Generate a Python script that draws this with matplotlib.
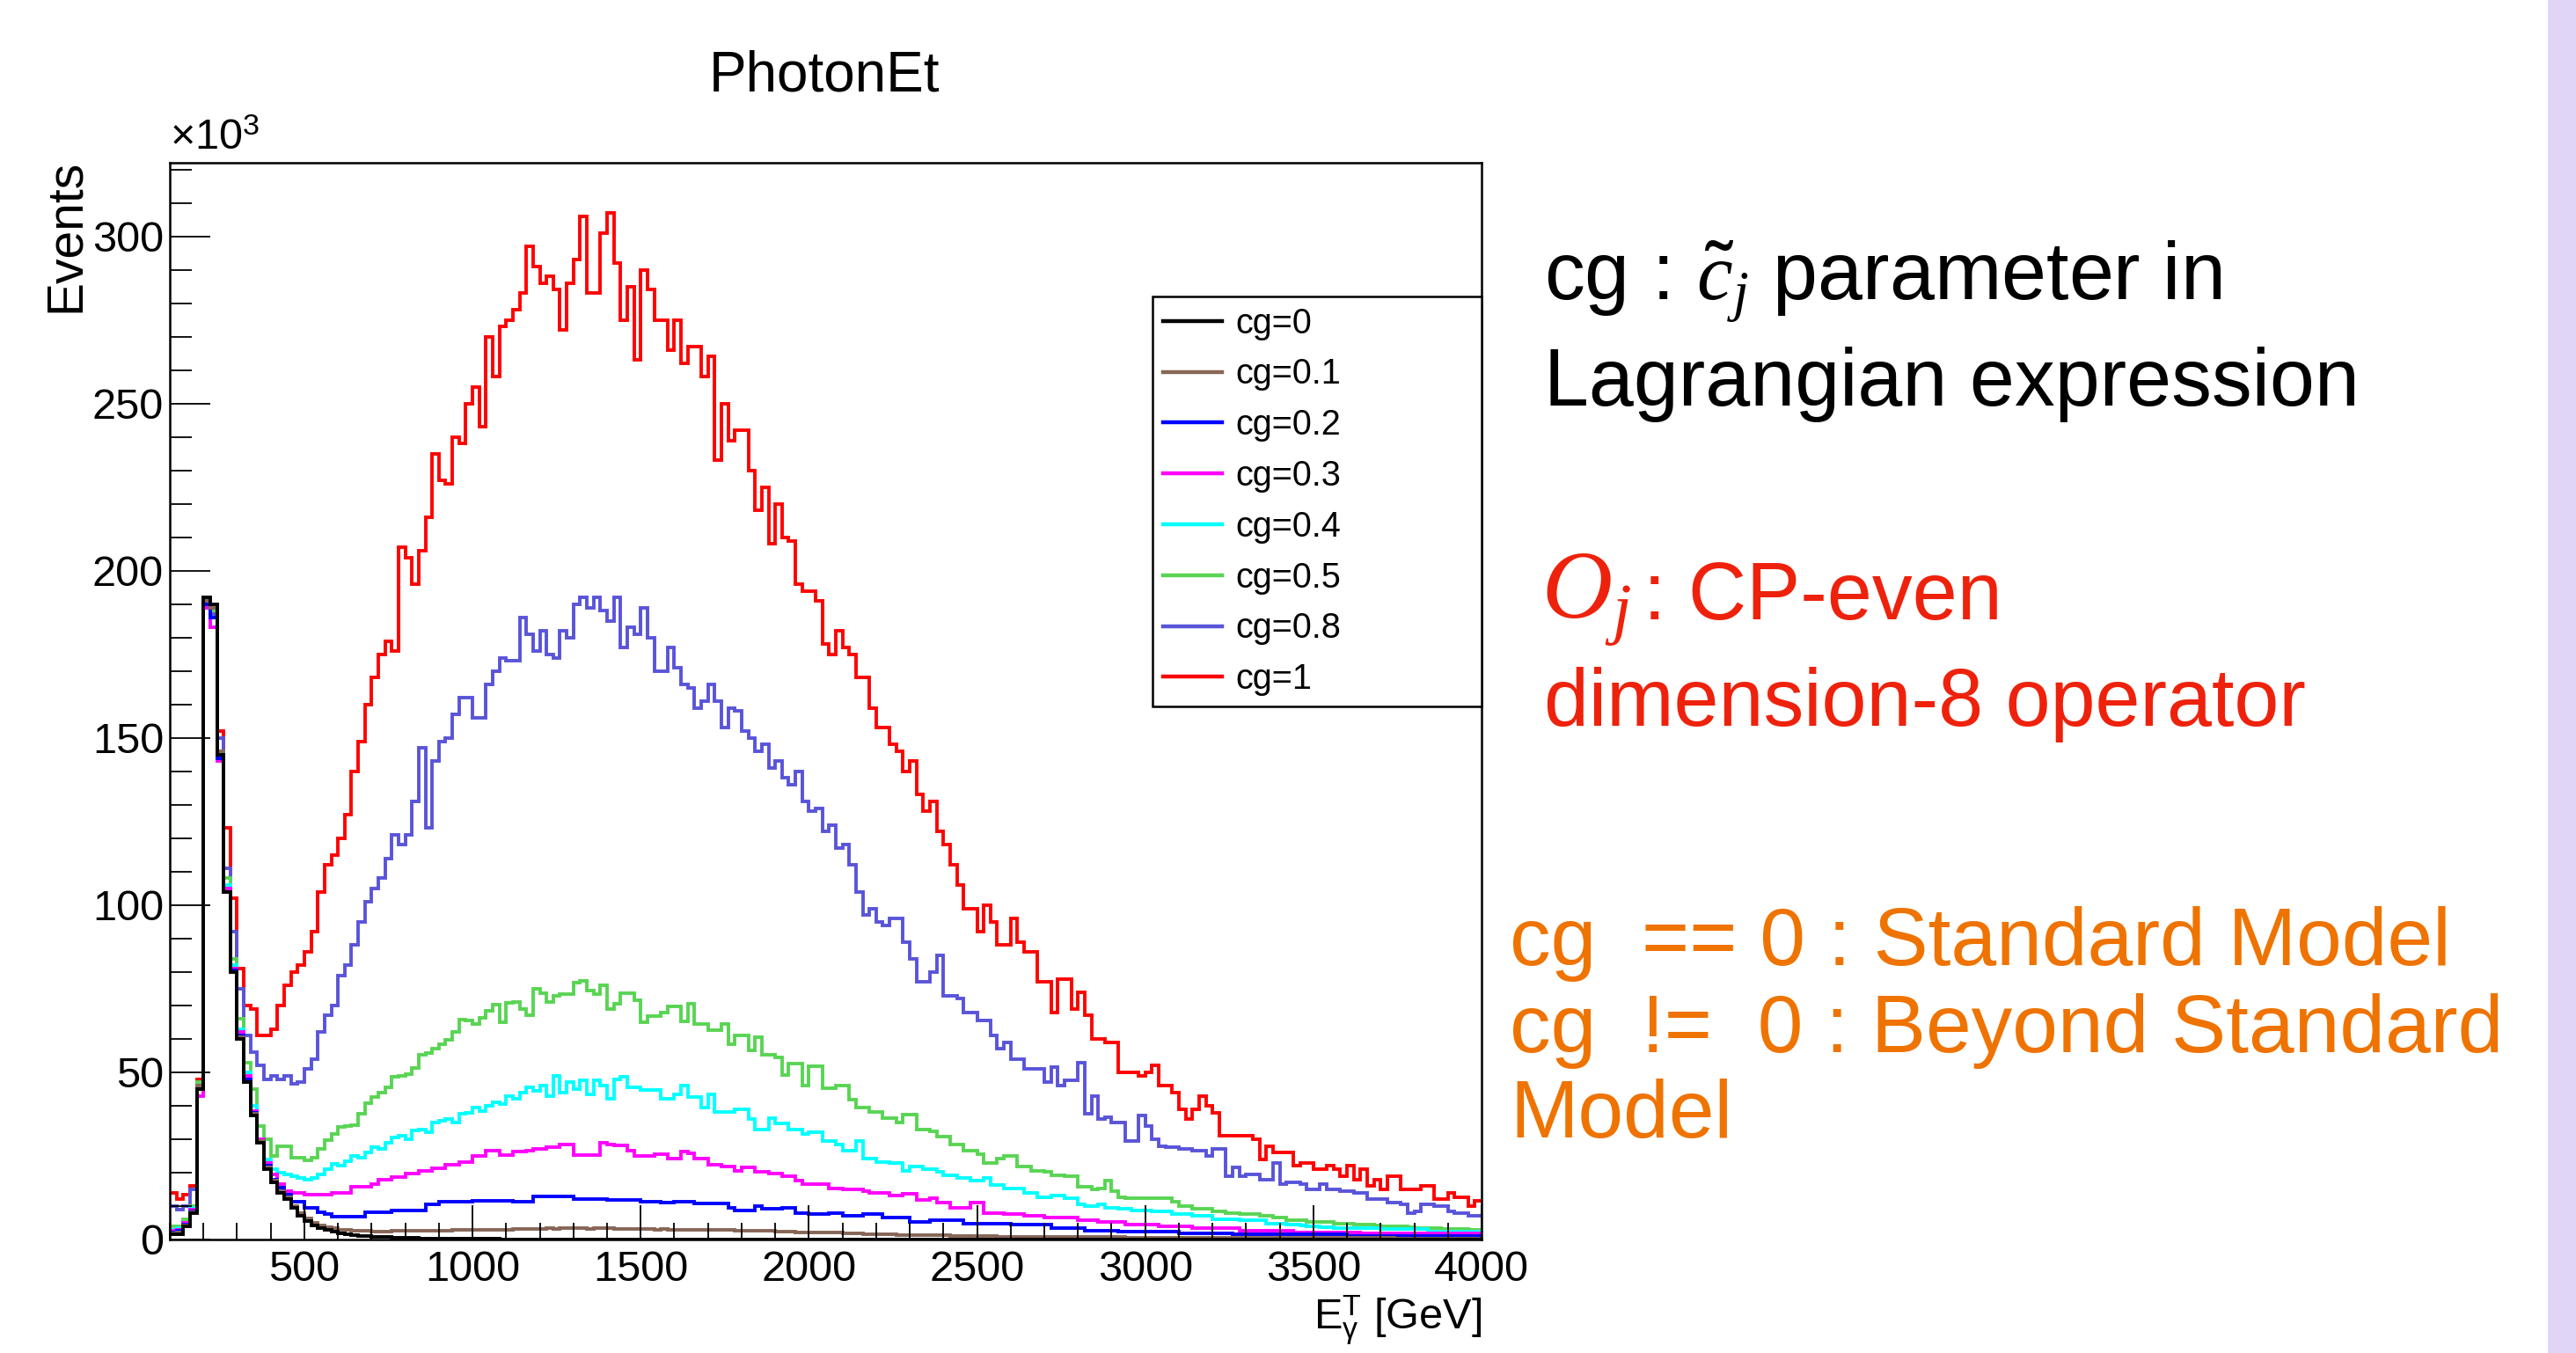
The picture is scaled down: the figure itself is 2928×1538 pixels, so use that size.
import matplotlib
matplotlib.use("Agg")
import matplotlib.pyplot as plt
from matplotlib.patches import Rectangle
from matplotlib.ticker import MultipleLocator
import numpy as np

plt.rcParams["font.family"] = ["Liberation Sans", "DejaVu Sans"]
plt.rcParams["mathtext.fontset"] = "custom"
plt.rcParams["mathtext.rm"] = "Liberation Sans"
plt.rcParams["mathtext.it"] = "Liberation Serif:italic"
plt.rcParams["mathtext.bf"] = "Liberation Sans:bold"

# Photon E_T histograms: 20 GeV bins from 100 to 4000 GeV, counts in units of 10^3
edges = np.arange(100, 4001, 20)

cg_labels = ["cg=0", "cg=0.1", "cg=0.2", "cg=0.3", "cg=0.4", "cg=0.5", "cg=0.8", "cg=1"]
cg_colors = ["#000000", "#876657", "#0000ff", "#ff00ff", "#00ffff", "#59d454", "#5954d9", "#ff0000"]

cg_0 = [
    1.5, 1.5, 4.0, 8.0, 45, 192, 190, 145, 104, 80,
    60, 47, 37, 29, 21, 17, 14, 12, 9.5, 7.0,
    5.5, 4.2, 3.3, 2.8, 2.4, 1.8, 1.5, 1.3, 1.1, 1.0,
    0.9, 0.8, 0.7, 0.6, 0.5, 0.45, 0.4, 0.35, 0.3, 0.3,
    0.25, 0.25, 0.2, 0.2, 0.2, 0.18, 0.16, 0.15, 0.14, 0.13,
    0.12, 0.12, 0.11, 0.11, 0.1, 0.1, 0.1, 0.09, 0.09, 0.09,
    0.08, 0.08, 0.08, 0.07, 0.07, 0.07, 0.07, 0.06, 0.06, 0.06,
    0.06, 0.05, 0.05, 0.05, 0.05, 0.05, 0.04, 0.04, 0.04, 0.04,
    0.04, 0.04, 0.03, 0.03, 0.03, 0.03, 0.03, 0.03, 0.03, 0.03,
    0.02, 0.02, 0.02, 0.02, 0.02, 0.02, 0.02, 0.02, 0.02, 0.02,
    0.02, 0.02, 0.02, 0.02, 0.02, 0.02, 0.02, 0.02, 0.02, 0.02,
    0.01, 0.01, 0.01, 0.01, 0.01, 0.01, 0.01, 0.01, 0.01, 0.01,
    0.01, 0.01, 0.01, 0.01, 0.01, 0.01, 0.01, 0.01, 0.01, 0.01,
    0.01, 0.01, 0.01, 0.01, 0.01, 0.01, 0.01, 0.01, 0.01, 0.01,
    0.01, 0.01, 0.01, 0.01, 0.01, 0.01, 0.01, 0.01, 0.01, 0.01,
    0.01, 0.01, 0.01, 0.01, 0.01, 0.01, 0.01, 0.01, 0.01, 0.01,
    0.01, 0.01, 0.01, 0.01, 0.01, 0.01, 0.01, 0.01, 0.01, 0.01,
    0.01, 0.01, 0.01, 0.01, 0.01, 0.01, 0.01, 0.01, 0.01, 0.01,
    0.01, 0.01, 0.01, 0.01, 0.01, 0.01, 0.01, 0.01, 0.01, 0.01,
    0.01, 0.01, 0.01, 0.01, 0.01,
]

cg_01 = [
    1.8, 2.0, 4.2, 8.2, 46, 191, 189, 146, 104, 80,
    60.5, 47, 37.5, 29.5, 21.5, 17.5, 14.5, 12.5, 10, 7.8,
    6.3, 5.0, 4.2, 3.7, 3.3, 3.0, 2.8, 2.6, 2.5, 2.5,
    2.4, 2.4, 2.4, 2.5, 2.5, 2.5, 2.6, 2.6, 2.6, 2.7,
    2.7, 2.7, 2.8, 2.8, 2.8, 2.9, 2.9, 2.9, 3.0, 3.0,
    3.0, 3.1, 3.1, 3.2, 3.2, 3.2, 3.3, 3.2, 3.3, 3.3,
    3.3, 3.4, 3.2, 3.4, 3.3, 3.3, 3.2, 3.1, 3.1, 3.2,
    3.1, 3.1, 3.0, 3.1, 3.0, 3.0, 3.0, 2.9, 3.0, 2.9,
    2.9, 2.8, 2.8, 2.8, 2.7, 2.7, 2.7, 2.6, 2.6, 2.5,
    2.4, 2.3, 2.3, 2.2, 2.2, 2.2, 2.1, 2.1, 2.0, 2.0,
    1.9, 1.8, 1.8, 1.7, 1.6, 1.6, 1.5, 1.5, 1.4, 1.4,
    1.3, 1.3, 1.3, 1.2, 1.2, 1.2, 1.1, 1.1, 1.1, 1.0,
    1.0, 1.0, 1.0, 0.9, 0.9, 0.9, 0.9, 0.9, 0.9, 0.9,
    0.9, 0.8, 0.8, 0.8, 0.8, 0.8, 0.8, 0.7, 0.7, 0.7,
    0.7, 0.7, 0.6, 0.6, 0.6, 0.6, 0.6, 0.6, 0.6, 0.6,
    0.6, 0.6, 0.6, 0.5, 0.5, 0.5, 0.5, 0.5, 0.5, 0.5,
    0.5, 0.5, 0.5, 0.5, 0.5, 0.5, 0.4, 0.4, 0.4, 0.4,
    0.4, 0.4, 0.4, 0.4, 0.4, 0.4, 0.4, 0.4, 0.4, 0.4,
    0.4, 0.4, 0.3, 0.3, 0.3, 0.3, 0.3, 0.3, 0.3, 0.3,
    0.3, 0.3, 0.3, 0.3, 0.3,
]

cg_02 = [
    2.0, 2.5, 4.5, 8.5, 45, 190, 186, 144, 104, 80.5,
    61, 48, 38, 29.5, 22, 18, 15.5, 13.5, 11.3, 11.3,
    9.5, 9.5, 8.2, 7.7, 6.9, 6.9, 6.9, 6.9, 6.9, 8.2,
    8.2, 8.2, 8.2, 8.6, 8.6, 8.6, 8.6, 8.6, 10.4, 10.4,
    11.3, 11.3, 11.3, 11.3, 11.3, 11.7, 11.7, 11.7, 11.7, 11.7,
    11.7, 11.3, 11.3, 11.3, 13.0, 13.0, 13.0, 13.0, 13.0, 13.0,
    12.1, 12.1, 12.1, 12.1, 12.1, 11.8, 11.8, 11.8, 11.8, 11.8,
    11.4, 11.4, 11.4, 11.0, 11.0, 11.4, 11.4, 11.4, 10.8, 10.8,
    10.8, 10.8, 10.8, 9.6, 8.8, 8.8, 8.8, 10.1, 9.2, 9.2,
    9.2, 9.6, 9.6, 7.9, 7.9, 7.5, 7.5, 7.5, 7.9, 7.9,
    7.0, 7.0, 7.0, 7.5, 7.5, 7.5, 6.6, 6.6, 6.6, 6.6,
    5.3, 5.3, 5.3, 5.7, 5.7, 5.7, 5.7, 5.7, 4.8, 4.8,
    4.8, 4.8, 4.8, 4.8, 4.8, 4.4, 4.4, 4.4, 4.4, 4.4,
    4.4, 3.5, 3.5, 3.5, 3.5, 3.5, 2.6, 2.6, 2.6, 2.6,
    2.6, 2.4, 2.4, 2.4, 2.4, 2.4, 2.4, 2.4, 2.4, 2.4,
    1.8, 1.8, 1.8, 1.8, 1.8, 1.8, 1.8, 1.8, 1.5, 1.5,
    1.5, 1.5, 1.5, 1.5, 1.5, 1.5, 1.5, 1.5, 1.5, 1.5,
    1.5, 1.5, 1.5, 1.5, 1.5, 1.1, 1.1, 1.1, 1.1, 1.1,
    1.1, 1.1, 1.1, 1.1, 1.1, 1.1, 1.1, 1.1, 1.1, 1.1,
    1.1, 1.1, 1.1, 1.1, 1.1,
]

cg_03 = [
    2.5, 3.0, 5.0, 9.0, 43, 189, 183, 143, 105, 81,
    62, 49, 38.5, 30, 23, 19.5, 16.5, 14.5, 14, 13.9,
    13.5, 13.5, 13.5, 13.5, 13.9, 13.9, 14.0, 15.7, 15.7, 15.7,
    16.5, 17.9, 17.9, 18.7, 18.7, 19.6, 19.6, 20.5, 20.5, 21.4,
    21.4, 22.3, 22.3, 23.1, 23.1, 24.9, 24.9, 26.7, 26.7, 25.3,
    25.3, 26.2, 26.2, 26.7, 27.1, 27.1, 27.5, 27.5, 28.4, 28.4,
    25.3, 25.3, 25.3, 25.3, 28.9, 28.4, 28.1, 28.1, 26.7, 25.0,
    25.0, 25.0, 25.4, 25.4, 24.1, 24.1, 26.3, 25.9, 24.1, 24.1,
    22.4, 22.4, 21.9, 21.9, 20.6, 21.5, 21.5, 20.2, 20.2, 19.7,
    19.7, 18.9, 18.9, 17.5, 16.7, 16.7, 16.7, 16.7, 15.3, 15.3,
    14.9, 14.9, 14.9, 14.5, 14.0, 14.0, 14.0, 13.2, 13.2, 13.6,
    13.6, 11.8, 11.8, 12.3, 11.0, 11.0, 9.6, 9.6, 9.6, 11.0,
    11.0, 7.9, 7.9, 7.9, 7.5, 7.5, 7.5, 7.0, 7.0, 7.0,
    6.6, 6.6, 6.6, 6.6, 6.6, 5.7, 5.7, 5.7, 5.3, 5.3,
    5.3, 5.3, 4.4, 4.4, 4.4, 4.4, 4.4, 3.9, 3.9, 3.9,
    3.9, 3.9, 3.5, 3.5, 3.5, 3.5, 3.5, 3.5, 3.5, 2.6,
    2.6, 2.6, 2.6, 2.6, 2.6, 2.6, 2.6, 2.2, 2.2, 2.2,
    2.2, 2.2, 2.2, 2.2, 2.2, 2.2, 2.2, 1.8, 1.8, 1.8,
    1.8, 1.8, 1.8, 1.8, 1.8, 1.8, 1.8, 1.8, 1.8, 1.8,
    1.8, 1.8, 1.8, 1.8, 1.8,
]

cg_04 = [
    3.0, 3.5, 5.0, 9.5, 46, 190, 183, 145, 106, 82,
    63, 50, 40, 30, 24, 21, 20, 19.5, 19, 18.5,
    18, 18.5, 19.5, 21, 22.5, 22, 23.5, 25, 24.5, 26,
    27.5, 27, 29, 30.5, 31, 30, 32.5, 33, 32, 35,
    35.5, 36, 35, 37.5, 38, 39.5, 38.5, 40, 41, 40.5,
    43, 42, 44, 45.5, 44.5, 46, 43, 49, 44, 47,
    45, 47.5, 43.5, 47.5, 46, 42, 47.8, 48.7, 45.6, 45.6,
    44.7, 44.7, 44.7, 42.1, 42.1, 43.4, 46.0, 42.5, 42.5, 39.5,
    43.4, 38.1, 38.1, 38.1, 39.0, 39.0, 36.0, 32.9, 32.9, 36.4,
    34.6, 34.6, 32.9, 32.9, 31.6, 32.0, 32.0, 29.4, 29.4, 28.5,
    26.7, 26.7, 29.4, 24.1, 24.1, 23.2, 23.2, 22.8, 22.8, 20.6,
    21.9, 21.9, 21.0, 21.0, 20.2, 19.3, 19.3, 18.4, 18.4, 17.5,
    17.5, 18.4, 16.2, 16.2, 15.3, 15.3, 15.3, 14.0, 14.0, 12.7,
    12.7, 13.2, 13.2, 12.3, 12.3, 10.5, 10.1, 10.1, 10.5, 9.6,
    9.6, 9.2, 9.2, 8.8, 8.8, 8.8, 8.3, 8.3, 8.3, 7.5,
    7.5, 7.5, 7.0, 7.0, 7.0, 6.1, 6.1, 6.1, 6.1, 5.7,
    5.7, 5.7, 5.7, 4.8, 4.8, 4.8, 4.4, 4.4, 4.2, 4.0,
    3.9, 3.8, 3.6, 3.5, 3.5, 3.5, 3.5, 3.5, 3.5, 3.5,
    3.1, 3.1, 3.1, 3.1, 3.1, 3.1, 3.1, 2.4, 2.4, 2.4,
    2.4, 2.4, 2.4, 2.4, 2.4,
]

cg_05 = [
    4.0, 4.0, 6.0, 10, 47, 191, 188, 146, 108, 84,
    66, 53, 45, 34, 30, 25, 28, 28, 24.5, 24.5,
    23.6, 24.5, 27, 29.7, 31.5, 33.7, 33.9, 34.1, 37.7, 40.7,
    42.5, 44, 45.6, 48.7, 49, 49.5, 51.3, 55.3, 55.7, 57,
    58.5, 59.7, 62, 65.8, 65.5, 64.5, 66.3, 68.5, 70.2, 65,
    70.7, 71, 69, 67, 75, 73.7, 71.1, 72.9, 73.3, 73.3,
    76.8, 77.3, 74.5, 73.3, 75.9, 68.9, 70.6, 73.7, 73.7, 71.5,
    64.9, 66.7, 66.7, 68.0, 69.7, 69.7, 65.3, 70.6, 64.5, 64.5,
    62.7, 62.7, 64.5, 58.3, 61.0, 61.0, 56.6, 60.5, 55.3, 55.3,
    54.4, 49.1, 52.6, 52.6, 46.0, 51.7, 51.7, 45.2, 45.2, 46.0,
    46.0, 41.7, 39.5, 39.5, 38.1, 38.1, 36.4, 36.4, 35.1, 37.3,
    37.3, 32.9, 32.9, 32.4, 30.7, 30.7, 28.5, 28.5, 26.7, 26.7,
    25.4, 22.8, 22.8, 24.1, 25.0, 25.0, 21.9, 21.9, 20.6, 20.6,
    20.2, 19.3, 19.3, 18.9, 18.9, 15.8, 15.8, 14.9, 15.3, 17.5,
    14.5, 12.7, 12.3, 12.3, 12.3, 12.3, 12.3, 12.3, 12.3, 11.4,
    10.1, 10.1, 9.2, 9.2, 9.2, 8.3, 8.3, 7.9, 7.9, 7.5,
    7.5, 7.5, 7.0, 7.0, 6.6, 6.6, 5.7, 5.7, 5.7, 5.3,
    5.3, 5.3, 5.3, 4.8, 4.8, 4.8, 4.4, 4.4, 4.4, 4.2,
    3.9, 3.9, 3.9, 3.9, 3.6, 3.5, 3.5, 3.5, 3.4, 3.2,
    3.1, 3.1, 3.1, 3.0, 3.0,
]

cg_08 = [
    10, 9, 10, 15, 47, 190, 187, 150, 111, 92,
    75, 61, 56, 52, 48, 49, 48, 49, 46.5, 47,
    51, 54, 62, 67, 70, 79, 82, 88, 95, 101,
    105, 108, 114, 121, 118, 121, 131, 147, 123, 143,
    149, 150, 157, 162, 162, 156, 156, 166, 170, 174,
    173, 173, 186, 181, 176, 182, 175, 174, 182, 180,
    190, 192, 189, 192, 188, 185, 192, 177, 183, 181,
    189, 180, 170, 170, 177, 171, 166, 165, 159, 161,
    166, 161, 153, 159, 158, 152, 150, 146, 148, 141,
    143, 138, 136, 140, 131, 128, 129, 122, 124, 117,
    118, 112, 104, 97, 99, 95, 94, 96, 96, 89,
    84, 77, 77, 80, 85, 73, 73, 72, 68, 68,
    65.5, 65.5, 61, 57, 59, 54, 54, 51, 51, 51,
    47, 51.5, 46, 47.5, 47.5, 53, 37.5, 43, 36, 36.5,
    35, 35, 29.5, 29.5, 37, 34, 30, 28, 27.5, 27.5,
    27, 27, 26.5, 26.5, 25, 27, 27, 19, 21.5, 19,
    19.5, 19.5, 18, 18, 23, 16.5, 17, 17, 16.5, 15,
    15, 16.5, 15, 15, 14.5, 14.5, 14, 14, 12, 12,
    12, 11, 11, 10.5, 8, 8.5, 10.5, 10.5, 10, 10,
    8.5, 8, 8, 7, 7,
]

cg_1 = [
    14, 12, 13.5, 16, 48, 191, 188, 152, 123, 102,
    81, 70, 69, 61, 61, 63, 70, 76, 80, 82,
    86, 92, 104, 112, 115, 120, 127, 140, 149, 160,
    168, 175, 179, 176, 207, 204, 196, 206, 216, 235,
    227, 226, 240, 238, 250, 255, 243, 270, 258, 273,
    275, 278, 283, 297, 291, 286, 288, 284, 272, 286,
    293, 306, 283, 283, 301, 307, 292, 275, 285, 263,
    290, 284, 275, 275, 266, 275, 262, 267, 267, 258,
    264, 233, 250, 239, 242, 242, 230, 218, 225, 208,
    220, 210, 209, 196, 194, 194, 191, 178, 175, 182,
    177, 175, 168, 168, 159, 153, 153, 148, 146, 140,
    143, 133, 128, 131, 122, 118, 112, 106, 99, 99,
    92, 100, 95, 88, 88, 96, 89, 86, 86, 77,
    77, 68, 78, 78, 69, 74, 67, 60, 60, 59,
    59, 50, 50, 50, 49, 50, 52, 46, 46, 44,
    39, 36, 39, 43, 40, 38, 31, 31, 31, 31,
    31, 30, 24, 28, 26, 26, 26, 22, 23, 23,
    21, 21, 22, 21, 19, 22, 18, 21, 16, 18,
    15, 19, 19, 15, 15, 15, 16, 16, 12, 12,
    14, 12.5, 12.5, 10, 11.5,
]

series = [cg_0, cg_01, cg_02, cg_03, cg_04, cg_05, cg_08, cg_1]
for s in series:
    assert len(s) == len(edges) - 1, len(s)

W, H = 2928, 1538
fig = plt.figure(figsize=(W / 100, H / 100), dpi=100)
fig.patch.set_facecolor("white")

ax = fig.add_axes([193 / W, 1 - 1409 / H, (1684 - 193) / W, (1409 - 185) / H])

# draw cg=1 first so the SM curve ends up on top, like the ROOT canvas
handles = [None] * len(series)
for i in reversed(range(len(series))):
    h = ax.stairs(series[i], edges, color=cg_colors[i], linewidth=2.8,
                  baseline=None, label=cg_labels[i])
    handles[i] = h

ax.set_xlim(100, 4000)
ax.set_ylim(0, 322)
ax.xaxis.set_minor_locator(MultipleLocator(100))
ax.yaxis.set_major_locator(MultipleLocator(50))
ax.yaxis.set_minor_locator(MultipleLocator(10))
ax.set_xticks([500, 1000, 1500, 2000, 2500, 3000, 3500, 4000])
ax.tick_params(axis="x", which="major", direction="in", length=28, width=1.3,
               labelsize=35, pad=9, top=False)
ax.tick_params(axis="x", which="minor", direction="in", length=14, width=1.3, top=False)
ax.tick_params(axis="y", which="major", direction="in", length=33, width=1.3,
               labelsize=35, pad=5, right=False)
ax.tick_params(axis="y", which="minor", direction="in", length=18, width=1.3, right=False)
for sp in ax.spines.values():
    sp.set_linewidth(1.8)

ax.text(-0.079, 1.003, "Events", rotation=90, ha="center", va="top",
        fontsize=41, transform=ax.transAxes)
ax.text(0.0, 1.004, r"$\times10^{3}$", ha="left", va="bottom",
        fontsize=35, transform=ax.transAxes)
ax.text(1.0, -0.05, r"$\mathrm{E}_{\mathrm{\gamma}}^{\mathrm{T}}$ [GeV]", ha="right", va="top",
        fontsize=35, transform=ax.transAxes)

fig.text(937 / W, 1 - 86 / H, "PhotonEt", ha="center", va="center", fontsize=46)

leg = ax.legend(handles=handles, labels=cg_labels, loc="upper left",
                bbox_to_anchor=(0.749, 0.499, 0.251, 0.377), mode="expand",
                fontsize=28.5, frameon=True, fancybox=False, framealpha=1,
                edgecolor="black", borderpad=0.3, labelspacing=0.5,
                handlelength=1.7, handletextpad=0.4, borderaxespad=0)
leg.get_frame().set_linewidth(1.8)
for line in leg.get_lines():
    line.set_linewidth(3.2)

# annotation panel on the right
fig.text(1755 / W, 1 - 341 / H, r"cg : $\tilde{c}_j$ parameter in", ha="left",
         va="baseline", fontsize=66, color="black")
fig.text(1755 / W, 1 - 461 / H, "Lagrangian expression", ha="left",
         va="baseline", fontsize=66, color="black")
fig.text(1752 / W, 1 - 704 / H, r"$O_j$", ha="left",
         va="baseline", fontsize=80, color="#ee220c")
fig.text(1868 / W, 1 - 704 / H, ": CP-even", ha="left",
         va="baseline", fontsize=66, color="#ee220c")
fig.text(1755 / W, 1 - 825 / H, "dimension-8 operator", ha="left",
         va="baseline", fontsize=66, color="#ee220c")
fig.text(1716 / W, 1 - 1097 / H, "cg  == 0 : Standard Model", ha="left",
         va="baseline", fontsize=67, color="#ef7300")
fig.text(1716 / W, 1 - 1196 / H, "cg  !=  0 : Beyond Standard", ha="left",
         va="baseline", fontsize=67, color="#ef7300")
fig.text(1716 / W, 1 - 1293 / H, "Model", ha="left",
         va="baseline", fontsize=67, color="#ef7300")

fig.patches.append(Rectangle((2896 / W, 0), 1 - 2896 / W, 1, transform=fig.transFigure,
                             facecolor="#e1d5f7", edgecolor="none"))

fig.savefig("out.png", dpi=100)
